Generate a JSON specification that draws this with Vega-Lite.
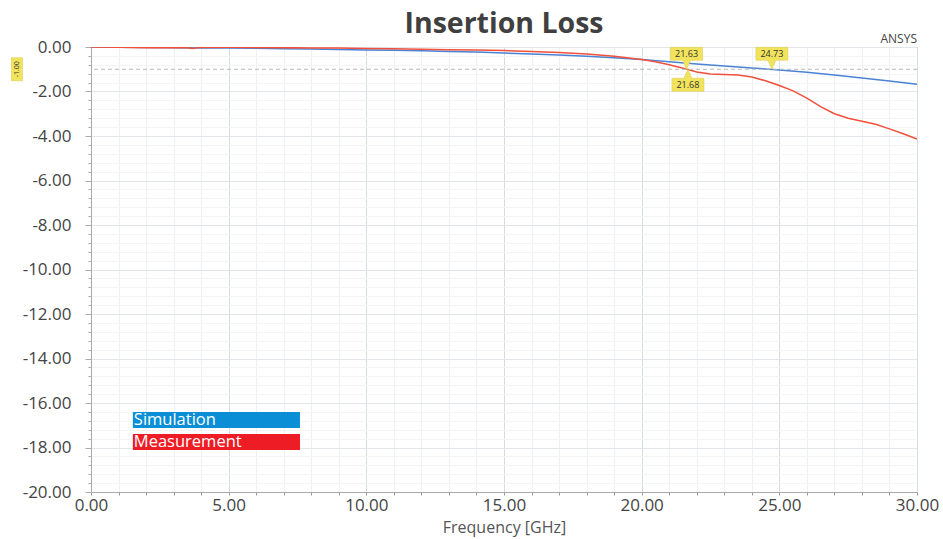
{
  "$schema": "https://vega.github.io/schema/vega-lite/v6.json",
  "autosize": "none",
  "width": 826,
  "height": 445,
  "padding": {"left": 91, "top": 47, "right": 26, "bottom": 47},
  "background": "white",
  "config": {
    "font": "Open Sans",
    "view": {"stroke": "#d0d0d0", "strokeWidth": 1}
  },
  "title": {"text": "Insertion Loss", "fontSize": 28.5, "fontWeight": "bold", "color": "#404040", "font": "Open Sans", "anchor": "middle", "offset": 8, "dy": 13},
  "resolve": {"axis": {"x": "independent", "y": "independent"}},
  "datasets": {
    "curves": [
      {"f": 0, "db": 0, "series": "Simulation"},
      {"f": 1, "db": -0.01, "series": "Simulation"},
      {"f": 2, "db": -0.02, "series": "Simulation"},
      {"f": 3, "db": -0.03, "series": "Simulation"},
      {"f": 4, "db": -0.04, "series": "Simulation"},
      {"f": 5, "db": -0.05, "series": "Simulation"},
      {"f": 6, "db": -0.06, "series": "Simulation"},
      {"f": 7, "db": -0.08, "series": "Simulation"},
      {"f": 8, "db": -0.09, "series": "Simulation"},
      {"f": 9, "db": -0.11, "series": "Simulation"},
      {"f": 10, "db": -0.13, "series": "Simulation"},
      {"f": 11, "db": -0.15, "series": "Simulation"},
      {"f": 12, "db": -0.17, "series": "Simulation"},
      {"f": 13, "db": -0.2, "series": "Simulation"},
      {"f": 14, "db": -0.23, "series": "Simulation"},
      {"f": 15, "db": -0.27, "series": "Simulation"},
      {"f": 16, "db": -0.31, "series": "Simulation"},
      {"f": 17, "db": -0.36, "series": "Simulation"},
      {"f": 18, "db": -0.42, "series": "Simulation"},
      {"f": 19, "db": -0.48, "series": "Simulation"},
      {"f": 20, "db": -0.56, "series": "Simulation"},
      {"f": 21, "db": -0.66, "series": "Simulation"},
      {"f": 22, "db": -0.76, "series": "Simulation"},
      {"f": 23, "db": -0.85, "series": "Simulation"},
      {"f": 24, "db": -0.94, "series": "Simulation"},
      {"f": 25, "db": -1.03, "series": "Simulation"},
      {"f": 26, "db": -1.14, "series": "Simulation"},
      {"f": 27, "db": -1.26, "series": "Simulation"},
      {"f": 28, "db": -1.39, "series": "Simulation"},
      {"f": 29, "db": -1.53, "series": "Simulation"},
      {"f": 30, "db": -1.68, "series": "Simulation"},
      {"f": 0, "db": 0, "series": "Measurement"},
      {"f": 1, "db": -0.01, "series": "Measurement"},
      {"f": 2, "db": -0.03, "series": "Measurement"},
      {"f": 3, "db": -0.02, "series": "Measurement"},
      {"f": 3.5, "db": -0.03, "series": "Measurement"},
      {"f": 3.7, "db": -0.07, "series": "Measurement"},
      {"f": 3.9, "db": -0.02, "series": "Measurement"},
      {"f": 5, "db": -0.01, "series": "Measurement"},
      {"f": 6, "db": -0.02, "series": "Measurement"},
      {"f": 7, "db": -0.03, "series": "Measurement"},
      {"f": 8, "db": -0.04, "series": "Measurement"},
      {"f": 9, "db": -0.05, "series": "Measurement"},
      {"f": 10, "db": -0.07, "series": "Measurement"},
      {"f": 11, "db": -0.08, "series": "Measurement"},
      {"f": 12, "db": -0.1, "series": "Measurement"},
      {"f": 13, "db": -0.12, "series": "Measurement"},
      {"f": 14, "db": -0.14, "series": "Measurement"},
      {"f": 15, "db": -0.16, "series": "Measurement"},
      {"f": 16, "db": -0.2, "series": "Measurement"},
      {"f": 17, "db": -0.25, "series": "Measurement"},
      {"f": 18, "db": -0.32, "series": "Measurement"},
      {"f": 19, "db": -0.42, "series": "Measurement"},
      {"f": 20, "db": -0.56, "series": "Measurement"},
      {"f": 20.5, "db": -0.66, "series": "Measurement"},
      {"f": 21, "db": -0.8, "series": "Measurement"},
      {"f": 21.65, "db": -1.0, "series": "Measurement"},
      {"f": 22, "db": -1.12, "series": "Measurement"},
      {"f": 22.5, "db": -1.21, "series": "Measurement"},
      {"f": 23, "db": -1.24, "series": "Measurement"},
      {"f": 23.5, "db": -1.26, "series": "Measurement"},
      {"f": 24, "db": -1.35, "series": "Measurement"},
      {"f": 24.5, "db": -1.52, "series": "Measurement"},
      {"f": 25, "db": -1.73, "series": "Measurement"},
      {"f": 25.5, "db": -1.97, "series": "Measurement"},
      {"f": 26, "db": -2.3, "series": "Measurement"},
      {"f": 26.5, "db": -2.68, "series": "Measurement"},
      {"f": 27, "db": -3.0, "series": "Measurement"},
      {"f": 27.5, "db": -3.2, "series": "Measurement"},
      {"f": 28, "db": -3.34, "series": "Measurement"},
      {"f": 28.5, "db": -3.47, "series": "Measurement"},
      {"f": 29, "db": -3.68, "series": "Measurement"},
      {"f": 29.5, "db": -3.9, "series": "Measurement"},
      {"f": 30, "db": -4.14, "series": "Measurement"}
    ],
    "markersTop": [
      {"f": 21.63, "db": -1.0, "label": "21.63"},
      {"f": 24.73, "db": -1.0, "label": "24.73"}
    ],
    "markersBottom": [
      {"f": 21.68, "db": -1.0, "label": "21.68"}
    ],
    "markerY": [
      {"f": -2.69, "db": -1.0, "label": "-1.00"}
    ]
  },
  "layer": [
    {
      "data": {"name": "curves"},
      "mark": {"type": "line", "strokeWidth": 1.5, "clip": true},
      "encoding": {
        "x": {
          "field": "f", "type": "quantitative",
          "scale": {"domain": [0, 30], "nice": false, "zero": false},
          "axis": {
            "title": "Frequency [GHz]",
            "titleFontSize": 16, "titleFontWeight": "normal", "titleColor": "#555555", "titlePadding": 6,
            "values": [0,1,2,3,4,5,6,7,8,9,10,11,12,13,14,15,16,17,18,19,20,21,22,23,24,25,26,27,28,29,30],
            "labelExpr": "datum.value % 5 === 0 ? format(datum.value, '.2f') : ''",
            "labelFontSize": 17, "labelColor": "#444444", "labelPadding": 2, "labelFlush": false, "labelOverlap": false,
            "domainColor": "#aaaaaa",
            "tickColor": "#999999", "tickSize": 3,
            "grid": true,
            "gridColor": {"condition": {"test": "datum.value % 5 === 0", "value": "#d6dce4"}, "value": "#eef1f4"},
            "gridWidth": 1
          }
        },
        "y": {
          "field": "db", "type": "quantitative",
          "scale": {"domain": [-20, 0], "nice": false, "zero": false},
          "axis": {
            "title": null,
            "values": [0,-0.4,-0.8,-1.2,-1.6,-2,-2.4,-2.8,-3.2,-3.6,-4,-4.4,-4.8,-5.2,-5.6,-6,-6.4,-6.8,-7.2,-7.6,-8,-8.4,-8.8,-9.2,-9.6,-10,-10.4,-10.8,-11.2,-11.6,-12,-12.4,-12.8,-13.2,-13.6,-14,-14.4,-14.8,-15.2,-15.6,-16,-16.4,-16.8,-17.2,-17.6,-18,-18.4,-18.8,-19.2,-19.6,-20],
            "labelExpr": "abs(round(datum.value * 10)) % 20 === 0 ? replace(format(datum.value, '.2f'), '\u2212', '-') : ''",
            "labelFontSize": 17, "labelColor": "#444444", "labelPadding": 14, "labelOverlap": false, "labelFlush": false,
            "domainColor": "#aaaaaa",
            "tickColor": "#aaaaaa",
            "tickSize": {"condition": {"test": "abs(round(datum.value * 10)) % 20 === 0", "value": 6}, "value": 3},
            "grid": true,
            "gridColor": {"condition": {"test": "abs(round(datum.value * 10)) % 20 === 0", "value": "#e2e6ea"}, "value": "#f2f4f6"},
            "gridWidth": 1
          }
        },
        "color": {
          "field": "series", "type": "nominal",
          "scale": {"domain": ["Simulation", "Measurement"], "range": ["#4a82d4", "#f0503c"]},
          "legend": null
        }
      }
    },
    {
      "data": {"values": [{"db": -1.0}]},
      "mark": {"type": "rule", "color": "#b8b8b8", "strokeDash": [4, 3], "strokeWidth": 1},
      "encoding": {"y": {"field": "db", "type": "quantitative", "axis": null}}
    },
    {
      "data": {"name": "markersTop"},
      "mark": {"type": "point", "shape": "M-1,-1.375L1,-1.375L1,-0.56L0.25,-0.56L0,0L-0.25,-0.56L-1,-0.56Z", "size": 1024, "filled": true, "fill": "#f2e35c", "stroke": "#d9c94a", "strokeWidth": 0.5, "opacity": 1},
      "encoding": {
        "x": {"field": "f", "type": "quantitative", "axis": null},
        "y": {"field": "db", "type": "quantitative", "axis": null}
      }
    },
    {
      "data": {"name": "markersTop"},
      "mark": {"type": "text", "fontSize": 9, "color": "#333333", "dy": -15, "baseline": "middle", "align": "center"},
      "encoding": {
        "x": {"field": "f", "type": "quantitative", "axis": null},
        "y": {"field": "db", "type": "quantitative", "axis": null},
        "text": {"field": "label"}
      }
    },
    {
      "data": {"name": "markersBottom"},
      "mark": {"type": "point", "shape": "M-1,1.375L1,1.375L1,0.56L0.25,0.56L0,0L-0.25,0.56L-1,0.56Z", "size": 1024, "filled": true, "fill": "#f2e35c", "stroke": "#d9c94a", "strokeWidth": 0.5, "opacity": 1},
      "encoding": {
        "x": {"field": "f", "type": "quantitative", "axis": null},
        "y": {"field": "db", "type": "quantitative", "axis": null}
      }
    },
    {
      "data": {"name": "markersBottom"},
      "mark": {"type": "text", "fontSize": 9, "color": "#333333", "dy": 16, "baseline": "middle", "align": "center"},
      "encoding": {
        "x": {"field": "f", "type": "quantitative", "axis": null},
        "y": {"field": "db", "type": "quantitative", "axis": null},
        "text": {"field": "label"}
      }
    },
    {
      "data": {"name": "markerY"},
      "mark": {"type": "point", "shape": "M-0.46,-0.96L0.46,-0.96L0.46,0.96L-0.46,0.96Z", "size": 576, "filled": true, "fill": "#f2e35c", "stroke": "#d9c94a", "strokeWidth": 0.5, "opacity": 1},
      "encoding": {
        "x": {"field": "f", "type": "quantitative", "axis": null},
        "y": {"field": "db", "type": "quantitative", "axis": null}
      }
    },
    {
      "data": {"name": "markerY"},
      "mark": {"type": "text", "fontSize": 7, "color": "#333333", "angle": 270, "baseline": "middle", "align": "center"},
      "encoding": {
        "x": {"field": "f", "type": "quantitative", "axis": null},
        "y": {"field": "db", "type": "quantitative", "axis": null},
        "text": {"field": "label"}
      }
    },
    {
      "data": {"values": [{"series": "Simulation"}]},
      "mark": {"type": "rect", "color": "#0a8fd6"},
      "encoding": {
        "x": {"datum": 1.52, "type": "quantitative", "axis": null},
        "x2": {"datum": 7.59},
        "y": {"datum": -16.4, "type": "quantitative", "axis": null},
        "y2": {"datum": -17.12}
      }
    },
    {
      "data": {"values": [{"series": "Measurement"}]},
      "mark": {"type": "rect", "color": "#ee1c25"},
      "encoding": {
        "x": {"datum": 1.52, "type": "quantitative", "axis": null},
        "x2": {"datum": 7.59},
        "y": {"datum": -17.39, "type": "quantitative", "axis": null},
        "y2": {"datum": -18.11}
      }
    },
    {
      "data": {"values": [{"series": "Simulation", "db": -16.76}, {"series": "Measurement", "db": -17.75}]},
      "mark": {"type": "text", "color": "white", "fontSize": 16.5, "align": "left", "baseline": "middle", "dx": 1},
      "encoding": {
        "x": {"datum": 1.52, "type": "quantitative", "axis": null},
        "y": {"field": "db", "type": "quantitative", "axis": null},
        "text": {"field": "series"}
      }
    },
    {
      "data": {"values": [{"text": "ANSYS"}]},
      "mark": {"type": "text", "color": "#444444", "fontSize": 12, "align": "right", "baseline": "bottom", "dy": -1},
      "encoding": {
        "x": {"datum": 30, "type": "quantitative", "axis": null},
        "y": {"datum": 0, "type": "quantitative", "axis": null},
        "text": {"field": "text"}
      }
    }
  ]
}
